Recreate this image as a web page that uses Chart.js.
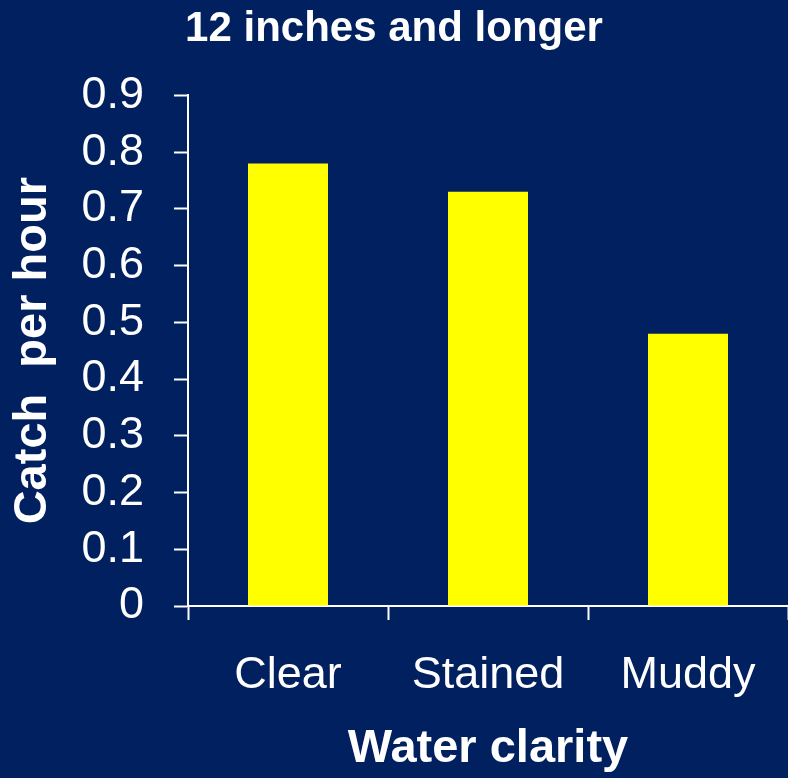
<!DOCTYPE html>
<html>
<head>
<meta charset="utf-8">
<script src="https://cdn.jsdelivr.net/npm/chart.js@4"></script>
<style>
  html, body { margin: 0; padding: 0; background: #002060; }
  #wrap { width: 788px; height: 778px; position: relative; }
</style>
</head>
<body>
<div id="wrap"><canvas id="c" width="788" height="778"></canvas></div>
<script>
const chartTitle = "12 inches and longer";
const categories = ["Clear", "Stained", "Muddy"];
const catchPerHour = [0.78, 0.73, 0.48];
const yTickLabels = ["0", "0.1", "0.2", "0.3", "0.4", "0.5", "0.6", "0.7", "0.8", "0.9"];
const xAxisTitle = "Water clarity";
const yAxisTitle = "Catch  per hour";

const FONT = "'Liberation Sans', Arial, sans-serif";

new Chart(document.getElementById('c'), {
  type: 'bar',
  data: {
    labels: categories,
    datasets: [{
      data: catchPerHour,
      backgroundColor: '#FFFF00',
      borderWidth: 0,
      categoryPercentage: 1.0,
      barPercentage: 0.4
    }]
  },
  options: {
    responsive: false,
    animation: false,
    devicePixelRatio: 1,
    layout: { padding: { left: 0, right: 0, top: 0, bottom: 0 } },
    plugins: {
      legend: { display: false },
      tooltip: { enabled: false },
      title: {
        display: true,
        text: chartTitle,
        color: '#FFFFFF',
        font: { family: FONT, size: 42, weight: 'bold', lineHeight: 1.2 },
        padding: { top: 4, bottom: 41 }
      }
    },
    scales: {
      x: {
        afterFit: (s) => { s.height = 172; },
        grid: {
          display: true,
          drawOnChartArea: false,
          drawTicks: true,
          tickLength: 14,
          tickWidth: 2,
          tickColor: '#FFFFFF',
          color: '#FFFFFF',
          offset: true
        },
        border: { display: true, color: '#FFFFFF', width: 2 },
        ticks: {
          color: '#FFFFFF',
          font: { family: FONT, size: 45, lineHeight: 1.2 },
          padding: 29,
          maxRotation: 0,
          autoSkip: false
        },
        title: {
          display: true,
          text: xAxisTitle,
          color: '#FFFFFF',
          font: { family: FONT, size: 47, weight: 'bold', lineHeight: 1.2 },
          padding: { top: 0, bottom: 1 }
        }
      },
      y: {
        min: 0,
        max: 0.9,
        afterFit: (s) => { s.width = 188; },
        grid: {
          display: true,
          drawOnChartArea: false,
          drawTicks: true,
          tickLength: 14,
          tickWidth: 2,
          tickColor: '#FFFFFF',
          color: '#FFFFFF'
        },
        border: { display: true, color: '#FFFFFF', width: 2 },
        ticks: {
          stepSize: 0.1,
          autoSkip: false,
          color: '#FFFFFF',
          font: { family: FONT, size: 45, lineHeight: 1.2 },
          padding: 30,
          callback: (v, i) => yTickLabels[i]
        },
        title: {
          display: true,
          text: yAxisTitle,
          color: '#FFFFFF',
          font: { family: FONT, size: 47, weight: 'bold', lineHeight: 1.2 },
          padding: { top: 5, bottom: 0 }
        }
      }
    }
  }
});
</script>
</body>
</html>
